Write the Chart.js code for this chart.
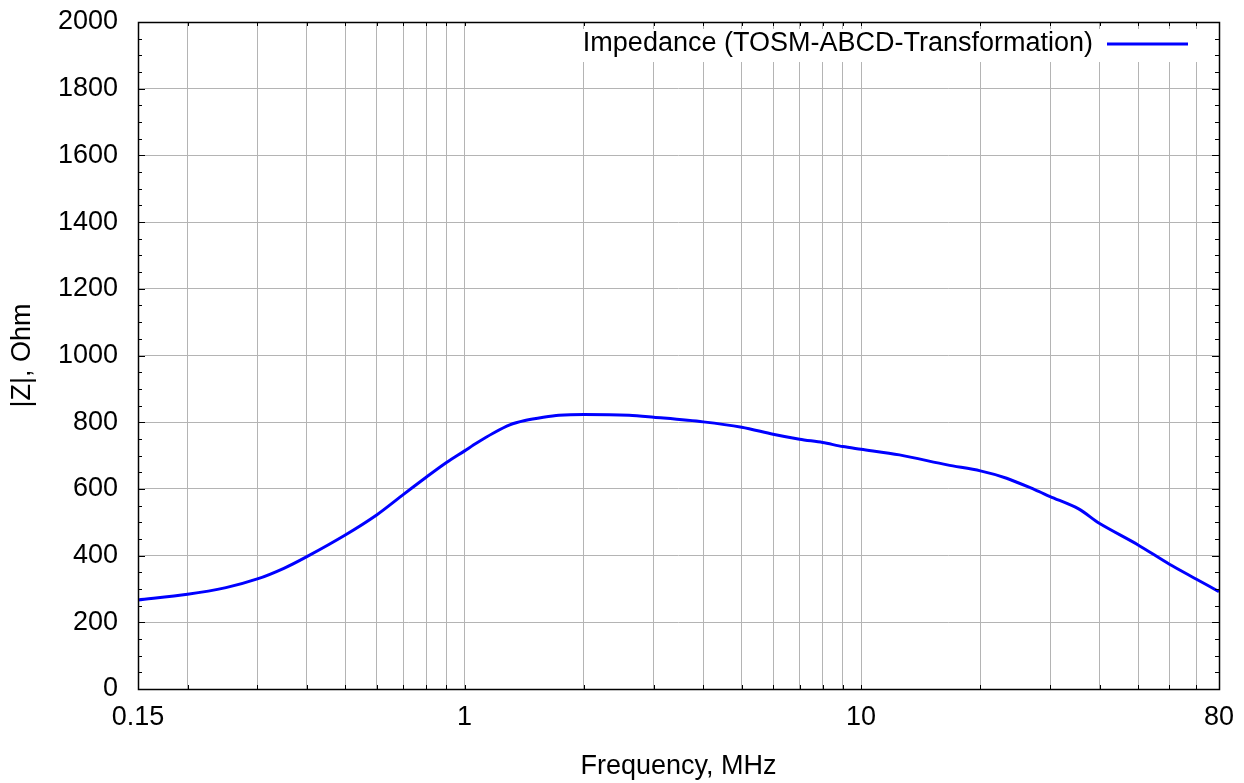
<!DOCTYPE html>
<html>
<head>
<meta charset="utf-8">
<script src="https://cdn.jsdelivr.net/npm/chart.js@4/dist/chart.umd.min.js"></script>
<style>
  body { margin: 0; background: #fff; }
  canvas { display: block; }
</style>
</head>
<body>
<canvas id="chart" width="1244" height="783"></canvas>
<script>
const freq = [0.15, 0.2, 0.25, 0.3, 0.35, 0.4, 0.5, 0.6, 0.7, 0.8, 0.9, 1.0, 1.07, 1.18, 1.3, 1.42, 1.58, 1.73, 2, 2.6, 3,
  4, 5, 6, 7, 8, 9, 10, 12.5, 16.5, 20, 23.3, 27.5, 30, 35.4, 40, 50, 60, 70, 80];
const impedance = [267, 284, 304, 330, 362, 397, 462, 522, 583, 635, 679, 714, 737, 767, 792, 805, 815, 821, 823, 821, 815,
  801, 785, 764, 749, 739, 727, 719, 702, 672, 654, 632, 597, 577, 540, 496, 432, 374, 330, 292];
const seriesLabel = "Impedance (TOSM-ABCD-Transformation)";

// gridline positions on the log axis and the ones that get a label
const xGrid = [0.15, 0.2, 0.3, 0.4, 0.5, 0.6, 0.7, 0.8, 0.9, 1, 2, 3, 4, 5, 6, 7, 8, 9, 10, 20, 30, 40, 50, 60, 70, 80];
const xLabels = [0.15, 1, 10, 80];
const yMin = 0, yMax = 2000, yStep = 200, yMinorStep = 50;

Chart.defaults.font.family = "'Liberation Sans', Arial, sans-serif";
Chart.defaults.font.size = 27;
Chart.defaults.color = "#000";

// frame, inner ticks and the boxed legend in the top right corner
const framePlugin = {
  id: "frame",
  afterDraw(chart) {
    const ctx = chart.ctx;
    const a = chart.chartArea;
    const xs = chart.scales.x, ys = chart.scales.y;
    ctx.save();
    ctx.strokeStyle = "#000";
    ctx.lineWidth = 1;
    ctx.beginPath();
    xGrid.forEach((v) => {
      const px = Math.round(xs.getPixelForValue(v)) + 0.5;
      ctx.moveTo(px, a.bottom); ctx.lineTo(px, a.bottom - 4);
      ctx.moveTo(px, a.top); ctx.lineTo(px, a.top + 4);
    });
    for (let v = yMin; v <= yMax; v += yMinorStep) {
      const py = Math.round(ys.getPixelForValue(v)) + 0.5;
      const len = v % yStep === 0 ? 7 : 4;
      ctx.moveTo(a.left, py); ctx.lineTo(a.left + len, py);
      ctx.moveTo(a.right, py); ctx.lineTo(a.right - len, py);
    }
    ctx.stroke();
    ctx.lineWidth = 1.5;
    ctx.strokeRect(Math.round(a.left) + 0.5, Math.round(a.top) + 0.5,
      Math.round(a.right - a.left), Math.round(a.bottom - a.top));

    // legend
    ctx.font = "27px 'Liberation Sans', Arial, sans-serif";
    const lineEnd = a.right - 31;
    const lineStart = lineEnd - 81;
    const textRight = lineStart - 14;
    const tw = ctx.measureText(seriesLabel).width;
    const ly = a.top + 22;
    ctx.fillStyle = "#fff";
    ctx.fillRect(textRight - tw - 8, a.top + 7, a.right - 8 - (textRight - tw - 8), 33);
    ctx.fillStyle = "#000";
    ctx.textAlign = "right";
    ctx.textBaseline = "middle";
    ctx.fillText(seriesLabel, textRight, ly);
    ctx.strokeStyle = chart.data.datasets[0].borderColor;
    ctx.lineWidth = 3;
    ctx.beginPath();
    ctx.moveTo(lineStart, ly); ctx.lineTo(lineEnd, ly);
    ctx.stroke();
    ctx.restore();
  },
};

new Chart(document.getElementById("chart"), {
  type: "line",
  data: {
    datasets: [
      {
        label: seriesLabel,
        data: freq.map((f, i) => ({ x: f, y: impedance[i] })),
        borderColor: "#0000ff",
        borderWidth: 3,
        pointRadius: 0,
        tension: 0.3,
        fill: false,
      },
    ],
  },
  options: {
    responsive: false,
    animation: false,
    layout: { padding: { top: 22, right: 25, bottom: 0, left: 0 } },
    plugins: { legend: { display: false }, tooltip: { enabled: false } },
    scales: {
      x: {
        type: "logarithmic",
        min: 0.15,
        max: 80,
        afterBuildTicks: (scale) => {
          scale.ticks = xGrid.map((v) => ({ value: v }));
        },
        afterFit: (scale) => {
          scale.height = 94;
          scale.paddingLeft = 0;
          scale.paddingRight = 0;
        },
        ticks: {
          autoSkip: false,
          maxRotation: 0,
          padding: 12,
          callback: (v) => (xLabels.includes(v) ? String(v) : ""),
        },
        grid: { color: "#b4b4b4", drawTicks: false },
        border: { display: false },
        title: { display: true, text: "Frequency, MHz", padding: { top: 0, bottom: 0 } },
      },
      y: {
        min: yMin,
        max: yMax,
        afterFit: (scale) => {
          scale.width = 138;
          scale.paddingTop = 0;
          scale.paddingBottom = 0;
        },
        ticks: { stepSize: yStep, padding: 20, callback: (v) => String(v) },
        grid: { color: "#b4b4b4", drawTicks: false },
        border: { display: false },
        title: { display: true, text: "|Z|, Ohm", padding: { top: 6, bottom: 0 } },
      },
    },
  },
  plugins: [framePlugin],
});
</script>
</body>
</html>
